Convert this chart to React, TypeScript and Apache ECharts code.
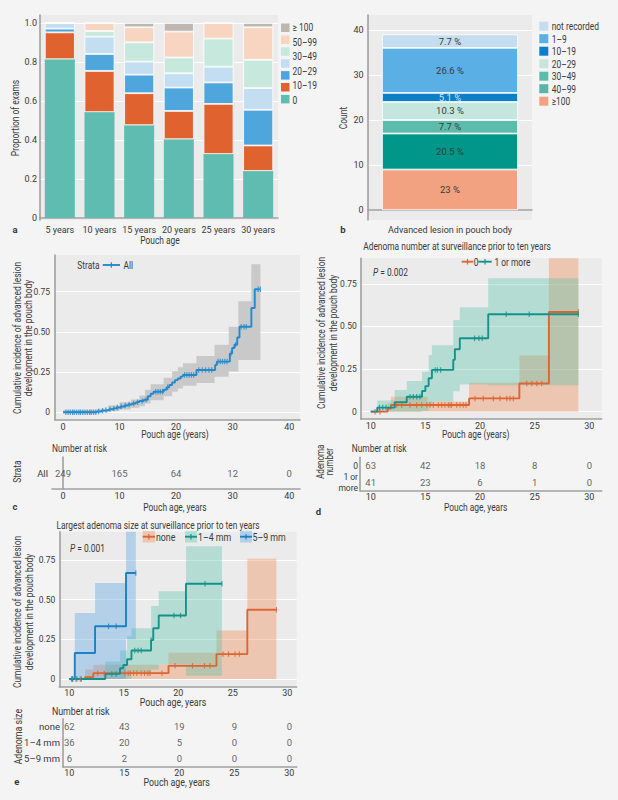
import React, { useEffect, useRef } from 'react';
import * as echarts from 'echarts';

const FONT = "Roboto, 'Noto Sans', sans-serif";
const TXT = '#3a3a3a';
const AXIS = '#a0a0a0';
const PLOT_BG = '#ebebeb';
const PAGE_BG = '#f4f4f4';
const SX = 0.8; // horizontal condensing of free texts

// ---------- Panel a ----------
const ageCategories = ['5 years', '10 years', '15 years', '20 years', '25 years', '30 years'];
const legendALabels = ['≥ 100', '50–99', '30–49', '20–29', '10–19', '0'];
const shareTeal = [0.814, 0.543, 0.476, 0.404, 0.328, 0.241];
const shareOrange = [0.138, 0.211, 0.164, 0.145, 0.257, 0.131];
const shareBlue = [0.019, 0.087, 0.095, 0.12, 0.11, 0.183];
const shareLightBlue = [0.029, 0.089, 0.067, 0.073, 0.081, 0.111];
const shareMint = [0, 0.029, 0.099, 0.081, 0.144, 0.145];
const sharePeach = [0, 0.041, 0.077, 0.133, 0.08, 0.167];
const shareGray = [0, 0, 0.022, 0.044, 0, 0.022];
const aTicks = [0, 0.2, 0.4, 0.6, 0.8, 1.0];

// ---------- Panel b ----------
const bGroups = ['not recorded', '1–9', '10–19', '20–29', '30–49', '40–99', '≥100'];
const bCounts = [3, 10, 2, 4, 3, 8, 9];
const bPercents = ['7.7 %', '26.6 %', '5.1 %', '10.3 %', '7.7 %', '20.5 %', '23 %'];
const bCategory = ['Advanced lesion in pouch body'];
const bTicks = [0, 10, 20, 30, 40];

// ---------- Panel c ----------
const cTimes = [0, 6, 6.8, 7.5, 8.2, 8.9, 9.5, 10.2, 10.9, 11.5, 12.2, 12.9, 13.5, 14.3, 15.0, 15.5, 16.0, 17.8, 18.3, 18.8, 19.3, 19.8, 20.3, 20.8, 21.2, 23.6, 26.9, 27.2, 29.5, 29.9, 30.3, 30.8, 31.2, 33.3, 33.9, 34.8];
const cIncidence = [0, 0.005, 0.01, 0.014, 0.019, 0.024, 0.03, 0.036, 0.042, 0.048, 0.055, 0.063, 0.07, 0.078, 0.1, 0.115, 0.128, 0.14, 0.155, 0.17, 0.185, 0.2, 0.21, 0.222, 0.232, 0.263, 0.294, 0.315, 0.365, 0.4, 0.42, 0.465, 0.532, 0.648, 0.765, 0.765];
const cCensor = [0.5, 0.9, 1.3, 1.7, 2.0, 2.4, 2.8, 3.1, 3.5, 3.9, 4.3, 4.7, 5.0, 5.4, 5.8, 6.3, 7.0, 7.6, 8.3, 9.0, 9.6, 10.3, 11.0, 11.7, 12.5, 13.2, 14.0, 14.7, 16.4, 16.8, 17.2, 17.6, 18.5, 21.5, 21.9, 22.3, 22.7, 23.1, 24.0, 24.6, 25.2, 25.8, 26.3, 27.4, 27.8, 28.2, 28.6, 29.0, 29.7, 30.5, 31.5, 32.0, 32.4, 34.5, 34.9];
const cBand = [
  [0, 6, 0, 0.012], [6, 8, 0, 0.022], [8, 10, 0.008, 0.042], [10, 12, 0.018, 0.062],
  [12, 13.5, 0.028, 0.08], [13.5, 14.5, 0.038, 0.105], [14.5, 15.5, 0.055, 0.14],
  [15.5, 17.8, 0.075, 0.175], [17.8, 19.3, 0.1, 0.215], [19.3, 20.3, 0.128, 0.255],
  [20.3, 21.2, 0.148, 0.28], [21.2, 23.6, 0.165, 0.305], [23.6, 26.8, 0.182, 0.35],
  [26.8, 29.3, 0.221, 0.42], [29.3, 31.0, 0.253, 0.532], [31.0, 33.3, 0.325, 0.69],
  [33.3, 34.9, 0.325, 0.92],
];
const cRiskTicks = [0, 10, 20, 30, 40];
const cRiskRows = ['All'];
const cRiskAll = [249, 165, 64, 12, 0];
const cYTicks = [0, 0.25, 0.5, 0.75];

// ---------- Panel d ----------
const dTimes0 = [10.0, 11.55, 11.85, 19.0, 23.6, 26.3, 29.0];
const dInc0 = [0, 0.018, 0.039, 0.078, 0.165, 0.585, 0.585];
const dTimes1 = [10.0, 10.6, 12.2, 13.3, 14.7, 15.0, 15.3, 15.6, 17.55, 17.7, 18.15, 20.75, 29.0];
const dInc1 = [0, 0.024, 0.055, 0.088, 0.121, 0.15, 0.196, 0.245, 0.304, 0.366, 0.431, 0.572, 0.572];
const dCensor0 = [10.4, 10.85, 12.38, 12.83, 13.59, 14.2, 14.66, 15.12, 15.42, 15.73, 16.18, 16.49, 16.79, 17.1, 17.25, 17.4, 17.86, 18.17, 18.47, 18.72, 19.54, 20.3, 21.22, 21.83, 22.44, 22.74, 23.05, 24.27, 24.73, 25.19, 25.64, 29.0];
const dCensor1 = [10.8, 11.1, 11.4, 13.6, 13.9, 14.2, 14.5, 15.9, 16.1, 16.4, 19.5, 19.9, 20.2, 22.4, 24.5, 29.0];
const dBand0 = [[11.55, 11.85, 0, 0.05], [11.85, 15.2, 0, 0.088], [15.2, 19.0, 0, 0.06], [19.0, 23.6, 0, 0.17], [23.6, 26.3, 0, 0.33], [26.3, 29.0, 0, 0.95]];
const dBand1 = [[10.6, 12.2, 0, 0.065], [12.2, 13.3, 0, 0.127], [13.3, 14.7, 0, 0.18], [14.7, 15.3, 0.005, 0.235], [15.3, 15.6, 0.03, 0.333], [15.6, 17.55, 0.06, 0.39], [17.55, 18.15, 0.12, 0.538], [18.15, 20.75, 0.16, 0.613], [20.75, 29.0, 0.155, 0.783]];
const dRiskTicks = [10, 15, 20, 25, 30];
const dRiskRows = ['0', '1 or more'];
const dRisk0 = [63, 42, 18, 8, 0];
const dRisk1 = [41, 23, 6, 1, 0];
const dLegend = ['0', '1 or more'];

// ---------- Panel e ----------
const eTimesNone = [10.0, 11.45, 12.2, 19.1, 23.5, 26.33, 29.0];
const eIncNone = [0, 0.012, 0.037, 0.083, 0.157, 0.436, 0.436];
const eTimes14 = [10.0, 13.3, 14.65, 14.95, 15.3, 15.7, 17.5, 17.7, 18.2, 20.7, 24.0];
const eInc14 = [0, 0.032, 0.068, 0.088, 0.124, 0.18, 0.245, 0.32, 0.4, 0.6, 0.6];
const eTimes59 = [10.0, 10.5, 12.36, 15.2, 16.1];
const eInc59 = [0, 0.164, 0.332, 0.668, 0.668];
const eCensorNone = [10.3, 10.6, 11.0, 12.6, 13.2, 15.1, 15.4, 15.6, 15.9, 16.2, 16.6, 16.9, 17.2, 17.4, 18.5, 19.7, 21.3, 22.4, 22.9, 24.1, 24.6, 25.2, 25.6, 29.0];
const eCensor14 = [10.3, 10.7, 11.1, 13.9, 14.3, 16.0, 16.3, 16.6, 17.5, 19.6, 20.2, 22.45, 24.0];
const eCensor59 = [10.2, 13.6, 14.3, 16.1];
const eBandNone = [[11.45, 12.2, 0, 0.06], [12.2, 19.1, 0, 0.09], [19.1, 23.5, 0, 0.165], [23.5, 26.33, 0, 0.305], [26.33, 29.0, 0, 0.757]];
const eBand14 = [[13.3, 14.65, 0, 0.11], [14.65, 15.3, 0, 0.18], [15.3, 15.7, 0, 0.27], [15.7, 17.5, 0.04, 0.32], [17.5, 18.2, 0.06, 0.46], [18.2, 20.7, 0.09, 0.553], [20.7, 24.0, 0.02, 0.836]];
const eBand59 = [[10.5, 12.36, 0, 0.416], [12.36, 15.2, 0, 0.605], [15.2, 16.1, 0.25, 0.95]];
const eRiskTicks = [10, 15, 20, 25, 30];
const eRiskRows = ['none', '1–4 mm', '5–9 mm'];
const eRiskNone = [62, 43, 19, 9, 0];
const eRisk14 = [36, 20, 5, 0, 0];
const eRisk59 = [6, 2, 0, 0, 0];
const eLegend = ['none', '1–4 mm', '5–9 mm'];

// ---------- colours ----------
const A_COLORS = ['#5ebdb0', '#e0622f', '#4fa6dd', '#c3ddf1', '#c7e8dd', '#f8d5c0', '#bdb7af'];
const B_COLORS = ['#c4ddf1', '#5aafe4', '#0b80c8', '#c5e6de', '#5cbcab', '#00968a', '#f2a181'];
const B_LEGEND_COLORS = ['#c4ddf1', '#5aafe4', '#0b80c8', '#c5e6de', '#5cbcab', '#5ab5a4', '#f2a181'];
const ORANGE = '#dd6531';
const TEAL = '#12938a';
const BLUE = '#1b80c4';
const C_BLUE = '#2389cf';
const ORANGE_BAND = 'rgba(244,122,60,0.32)';
const TEAL_BAND = 'rgba(70,190,165,0.33)';
const BLUE_BAND = 'rgba(80,160,226,0.36)';

function stepAt(times: number[], vals: number[], t: number) {
  let v = vals[0];
  for (let i = 0; i < times.length; i++) if (times[i] <= t) v = vals[i];
  return v;
}

const fmt2 = (v: number) => (v === 0 ? '0' : v.toFixed(2));

function vAxis(gi: number, min: number, max: number, ticks: number[], o: any = {}) {
  return {
    type: 'value', gridIndex: gi, min, max,
    axisLine: { show: true, onZero: false, lineStyle: { color: AXIS, width: 1.6 } },
    axisTick: { show: false, customValues: ticks },
    axisLabel: {
      show: true, customValues: ticks, margin: o.margin ?? 3, fontSize: o.fontSize ?? 9,
      color: TXT, fontFamily: FONT, formatter: o.formatter,
    },
    splitLine: { show: !!o.grid, lineStyle: { color: '#ffffff', width: 1.2 } },
  };
}

function catX(gi: number, cats: string[]) {
  return {
    type: 'category', gridIndex: gi, data: cats, boundaryGap: true,
    axisLine: { show: true, lineStyle: { color: AXIS, width: 1.6 } },
    axisTick: { show: false },
    axisLabel: { margin: 5, fontSize: 9, color: TXT, fontFamily: FONT, interval: 0 },
    splitLine: { show: false },
  };
}

function catAxis(gi: number, rows: string[], o: any = {}) {
  return {
    type: 'category', gridIndex: gi, data: rows, inverse: true, boundaryGap: true,
    axisLine: { show: true, lineStyle: { color: AXIS, width: 1.6 } },
    axisTick: { show: false },
    axisLabel: {
      margin: o.margin ?? 3, fontSize: o.fontSize ?? 9.5, color: TXT, fontFamily: FONT,
      formatter: o.formatter, lineHeight: o.lineHeight ?? 10, align: 'right', interval: 0,
    },
    splitLine: { show: false },
  };
}

function kmLine(gi: number, times: number[], vals: number[], color: string) {
  return {
    type: 'line', xAxisIndex: gi, yAxisIndex: gi, step: 'end', showSymbol: false, symbol: 'none',
    data: times.map((t, i) => [t, vals[i]]), lineStyle: { color, width: 1.9 }, itemStyle: { color },
    z: 5, silent: true,
  };
}

function kmCensor(gi: number, censors: number[], times: number[], vals: number[], color: string) {
  return {
    type: 'scatter', xAxisIndex: gi, yAxisIndex: gi, symbol: 'rect', symbolSize: [1.2, 5.5],
    data: censors.map((t) => [t, stepAt(times, vals, t)]), itemStyle: { color }, z: 6, silent: true,
  };
}

function kmBand(gi: number, segs: number[][], color: string) {
  return {
    type: 'custom', xAxisIndex: gi, yAxisIndex: gi, clip: true, silent: true, z: 2,
    data: segs, encode: { x: [0, 1], y: [2, 3] },
    renderItem: (params: any, api: any) => {
      if (params.dataIndex !== 0) return null;
      const pts: number[][] = [];
      segs.forEach((s) => { pts.push(api.coord([s[0], s[3]])); pts.push(api.coord([s[1], s[3]])); });
      for (let i = segs.length - 1; i >= 0; i--) {
        const s = segs[i];
        pts.push(api.coord([s[1], s[2]])); pts.push(api.coord([s[0], s[2]]));
      }
      return { type: 'polygon', shape: { points: pts }, style: { fill: color, stroke: 'none' } };
    },
  };
}

function riskRow(gi: number, ticks: number[], counts: number[], row: number) {
  return {
    type: 'scatter', xAxisIndex: gi, yAxisIndex: gi, symbolSize: 1, silent: true,
    itemStyle: { color: 'rgba(0,0,0,0)' },
    data: ticks.map((t, i) => [t, row, counts[i]]),
    label: { show: true, position: 'inside', formatter: (p: any) => String(p.value[2]), fontSize: 9.5, color: TXT, fontFamily: FONT },
  };
}

function txt(x: number, y: number, text: string, o: any = {}) {
  return {
    type: 'text', x, y, rotation: o.rotation ?? 0, scaleX: o.sx ?? SX, silent: true,
    style: {
      text, fill: o.fill ?? TXT, fontSize: o.fontSize ?? 10.5, fontFamily: FONT,
      fontWeight: o.bold ? 'bold' : 'normal', align: o.align ?? 'center', verticalAlign: 'middle',
      lineHeight: o.lineHeight, rich: o.rich,
    },
  };
}

function kmKey(x1: number, x2: number, y: number, color: string, box?: string) {
  const els: any[] = [];
  if (box) els.push({ type: 'rect', silent: true, shape: { x: x1, y: y - 5.8, width: x2 - x1, height: 11.6 }, style: { fill: box } });
  els.push({ type: 'line', silent: true, shape: { x1, y1: y, x2, y2: y }, style: { stroke: color, lineWidth: 1.9 } });
  els.push({ type: 'rect', silent: true, shape: { x: (x1 + x2) / 2 - 0.6, y: y - 2.8, width: 1.2, height: 5.6 }, style: { fill: color } });
  return els;
}

function buildOption() {
  const grid = (left: number, top: number, width: number, height: number, bg: boolean) => ({
    left, top, width, height, show: bg, backgroundColor: bg ? PLOT_BG : 'transparent', borderWidth: 0,
    containLabel: false, outerBoundsMode: 'none',
  });
  const grids = [
    grid(40, 15, 238, 205, true), // a
    grid(368, 15, 164, 205, true), // b
    grid(55, 255, 245, 165, true), // c
    grid(52, 457, 248, 32, false), // c table
    grid(360.7, 258.3, 241, 160.7, true), // d
    grid(360, 457.4, 241.7, 33.3, false), // d table
    grid(59.3, 531.7, 237.4, 155, true), // e
    grid(62.7, 718.7, 234, 48, false), // e table
  ];

  const xAxes = [
    catX(0, ageCategories),
    catX(1, bCategory),
    vAxis(2, -1.41, 41.9, cRiskTicks, { margin: 2 }),
    vAxis(3, -1.94, 41.9, cRiskTicks, { margin: 2 }),
    vAxis(4, 9.085, 31.13, dRiskTicks, { margin: 2 }),
    vAxis(5, 9.02, 31.13, dRiskTicks, { margin: 2 }),
    vAxis(6, 9.08, 30.86, eRiskTicks, { margin: 2 }),
    vAxis(7, 9.4, 30.67, eRiskTicks, { margin: 2 }),
  ];
  const yAxes = [
    vAxis(0, -0.0103, 1.041, aTicks, { grid: true, margin: 3, formatter: (v: number) => (v === 0 ? '0' : v.toFixed(1)) }),
    vAxis(1, -2.2, 43.3, bTicks, { grid: true, margin: 4.5 }),
    vAxis(2, -0.048, 0.978, cYTicks, { grid: true, margin: 5, fontSize: 8.5, formatter: fmt2 }),
    catAxis(3, cRiskRows, { margin: 4 }),
    vAxis(4, -0.043, 0.9, cYTicks, { grid: true, margin: 4, fontSize: 8.5, formatter: fmt2 }),
    catAxis(5, dRiskRows, { margin: 2, fontSize: 8.5, lineHeight: 10.5, formatter: (v: string) => (v === '1 or more' ? '1 or\nmore' : v) }),
    vAxis(6, -0.0485, 0.928, cYTicks, { grid: true, margin: 4, fontSize: 8.5, formatter: fmt2 }),
    catAxis(7, eRiskRows, { margin: 2.7 }),
  ];

  const series: any[] = [];
  // panel a
  const aStacks = [shareTeal, shareOrange, shareBlue, shareLightBlue, shareMint, sharePeach, shareGray];
  aStacks.forEach((arr, k) => {
    series.push({
      type: 'bar', xAxisIndex: 0, yAxisIndex: 0, stack: 'a', barWidth: 30, silent: true,
      data: arr.slice(),
      itemStyle: { color: A_COLORS[k], borderColor: '#ffffff', borderWidth: k === 0 ? 0 : 0.8 },
    });
  });
  // panel b (stack from bottom = last group)
  for (let k = bGroups.length - 1; k >= 0; k--) {
    series.push({
      type: 'bar', xAxisIndex: 1, yAxisIndex: 1, stack: 'b', barWidth: 136, silent: true,
      data: [bCounts[k]],
      itemStyle: { color: B_COLORS[k], borderColor: '#ffffff', borderWidth: 0.8 },
      label: {
        show: true, position: 'inside', formatter: () => bPercents[k], fontSize: 9.5, fontFamily: FONT,
        color: bGroups[k] === '10–19' ? '#cfe5f5' : TXT,
      },
    });
  }
  // panel c
  series.push(kmBand(2, cBand, '#c9c9c9'));
  series.push(kmLine(2, cTimes, cIncidence, C_BLUE));
  series.push(kmCensor(2, cCensor, cTimes, cIncidence, C_BLUE));
  series.push(riskRow(3, cRiskTicks, cRiskAll, 0));
  // panel d
  series.push(kmBand(4, dBand0, ORANGE_BAND));
  series.push(kmBand(4, dBand1, TEAL_BAND));
  series.push(kmLine(4, dTimes0, dInc0, ORANGE));
  series.push(kmLine(4, dTimes1, dInc1, TEAL));
  series.push(kmCensor(4, dCensor0, dTimes0, dInc0, ORANGE));
  series.push(kmCensor(4, dCensor1, dTimes1, dInc1, TEAL));
  series.push(riskRow(5, dRiskTicks, dRisk0, 0));
  series.push(riskRow(5, dRiskTicks, dRisk1, 1));
  // panel e
  series.push(kmBand(6, eBandNone, ORANGE_BAND));
  series.push(kmBand(6, eBand14, TEAL_BAND));
  series.push(kmBand(6, eBand59, BLUE_BAND));
  series.push(kmLine(6, eTimesNone, eIncNone, ORANGE));
  series.push(kmLine(6, eTimes14, eInc14, TEAL));
  series.push(kmLine(6, eTimes59, eInc59, BLUE));
  series.push(kmCensor(6, eCensorNone, eTimesNone, eIncNone, ORANGE));
  series.push(kmCensor(6, eCensor14, eTimes14, eInc14, TEAL));
  series.push(kmCensor(6, eCensor59, eTimes59, eInc59, BLUE));
  series.push(riskRow(7, eRiskTicks, eRiskNone, 0));
  series.push(riskRow(7, eRiskTicks, eRisk14, 1));
  series.push(riskRow(7, eRiskTicks, eRisk59, 2));

  const g: any[] = [];
  // panel a legend (7 swatches, 6 labels as printed)
  const aLegendColors = [A_COLORS[6], A_COLORS[5], A_COLORS[4], A_COLORS[3], A_COLORS[2], A_COLORS[1], A_COLORS[0]];
  aLegendColors.forEach((c, i) => g.push({ type: 'rect', silent: true, shape: { x: 281, y: 23.5 + i * 11.9, width: 8.5, height: 8.5 }, style: { fill: c } }));
  legendALabels.forEach((l, i) => g.push(txt(292.5, 27.5 + i * 14.5, l, { align: 'left', fontSize: 10.5 })));
  g.push(txt(15, 118, 'Proportion of exams', { rotation: Math.PI / 2 }));
  g.push(txt(160, 240, 'Pouch age'));
  g.push(txt(15, 229, 'a', { bold: true, fontSize: 9.5, sx: 1 }));
  // panel b
  bGroups.forEach((name, i) => {
    g.push({ type: 'rect', silent: true, shape: { x: 539.3, y: 21.7 + i * 12.5, width: 9, height: 9 }, style: { fill: B_LEGEND_COLORS[i] } });
    g.push(txt(551.7, 26.2 + i * 12.5, name, { align: 'left', fontSize: 10.5 }));
  });
  g.push(txt(343, 118, 'Count', { rotation: Math.PI / 2 }));
  g.push(txt(343, 229, 'b', { bold: true, fontSize: 9.5, sx: 1 }));
  // panel c
  g.push(txt(77.3, 265, 'Strata', { align: 'left' }));
  g.push(...kmKey(102.7, 120, 265, C_BLUE));
  g.push(txt(123.5, 265, 'All', { align: 'left' }));
  g.push(txt(22.5, 338, 'Cumulative incidence of advanced lesion\ndevelopment in the pouch body', { rotation: Math.PI / 2, lineHeight: 11.6 }));
  g.push(txt(175, 434, 'Pouch age (years)'));
  g.push(txt(52, 448, 'Number at risk', { align: 'left' }));
  g.push(txt(17, 471.7, 'Strata', { rotation: Math.PI / 2 }));
  g.push(txt(175, 507, 'Pouch age, years'));
  g.push(txt(15, 506, 'c', { bold: true, fontSize: 9.5, sx: 1 }));
  // panel d
  g.push(txt(457, 245.7, 'Adenoma number at surveillance prior to ten years'));
  g.push(...kmKey(461.7, 473.3, 261.7, ORANGE));
  g.push(txt(473.8, 261.7, dLegend[0], { align: 'left' }));
  g.push(...kmKey(478.3, 491.7, 261.7, TEAL));
  g.push(txt(494.5, 261.7, dLegend[1], { align: 'left' }));
  g.push(txt(373, 272.3, '{i|P} = 0.002', { align: 'left', rich: { i: { fontStyle: 'italic', fontSize: 10.5, fontFamily: FONT, fill: TXT } } }));
  g.push(txt(327.5, 333, 'Cumulative incidence of advanced lesion\ndevelopment in the pouch body', { rotation: Math.PI / 2, lineHeight: 11.8 }));
  g.push(txt(475.7, 434, 'Pouch age (years)'));
  g.push(txt(351.7, 447.7, 'Number at risk', { align: 'left' }));
  g.push(txt(325.3, 461.7, 'Adenoma\nnumber', { rotation: Math.PI / 2, lineHeight: 9.5, fontSize: 10 }));
  g.push(txt(475.7, 506.7, 'Pouch age, years'));
  g.push(txt(318.3, 511.7, 'd', { bold: true, fontSize: 9.5, sx: 1 }));
  // panel e
  g.push(txt(158, 525, 'Largest adenoma size at surveillance prior to ten years'));
  g.push(...kmKey(142.7, 155, 536.7, ORANGE, ORANGE_BAND));
  g.push(txt(156, 536.7, eLegend[0], { align: 'left', fontSize: 11 }));
  g.push(...kmKey(185, 197, 536.7, TEAL, TEAL_BAND));
  g.push(txt(198, 536.7, eLegend[1], { align: 'left', fontSize: 11 }));
  g.push(...kmKey(240, 252, 536.7, BLUE, BLUE_BAND));
  g.push(txt(252.5, 536.7, eLegend[2], { align: 'left', fontSize: 11 }));
  g.push(txt(70, 548, '{i|P} = 0.001', { align: 'left', rich: { i: { fontStyle: 'italic', fontSize: 10.5, fontFamily: FONT, fill: TXT } } }));
  g.push(txt(23.5, 612, 'Cumulative incidence of advanced lesion\ndevelopment in the pouch body', { rotation: Math.PI / 2, lineHeight: 11.8 }));
  g.push(txt(173, 701.7, 'Pouch age, years', { fontSize: 11 }));
  g.push(txt(52, 710.7, 'Number at risk', { align: 'left', fontSize: 11 }));
  g.push(txt(18.3, 736.7, 'Adenoma size', { rotation: Math.PI / 2, fontSize: 11 }));
  g.push(txt(176.7, 781.7, 'Pouch age, years', { fontSize: 11 }));
  g.push(txt(16.7, 781.7, 'e', { bold: true, fontSize: 9.5, sx: 1 }));

  return {
    animation: false,
    backgroundColor: PAGE_BG,
    textStyle: { fontFamily: FONT },
    grid: grids,
    xAxis: xAxes,
    yAxis: yAxes,
    series,
    graphic: { elements: g },
  };
}

export default function App() {
  const ref = useRef<HTMLDivElement>(null);
  useEffect(() => {
    const chart = echarts.init(ref.current as HTMLDivElement, null, { renderer: 'svg' });
    chart.setOption(buildOption() as any);
    return () => chart.dispose();
  }, []);
  return (
    <div
      ref={ref}
      style={{ position: 'absolute', left: 0, top: 0, width: 618, height: 800, background: PAGE_BG }}
    />
  );
}
